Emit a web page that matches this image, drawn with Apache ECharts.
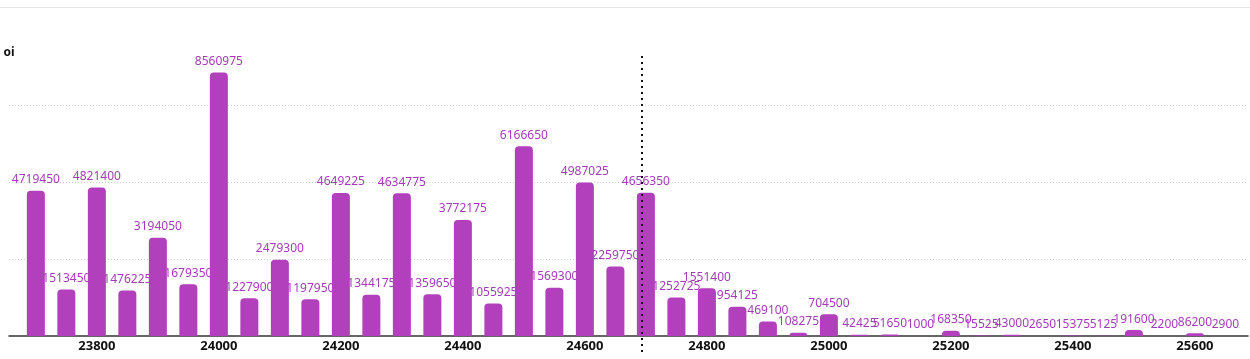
<!DOCTYPE html>
<html>
<head>
<meta charset="utf-8">
<script src="https://cdn.jsdelivr.net/npm/echarts@6/dist/echarts.min.js"></script>
<style>
html,body{margin:0;padding:0;background:#fff;}
#topline{position:absolute;left:0;top:7px;width:1250px;height:1px;background:#e6e6e6;}
#chart{position:absolute;left:0;top:0;width:1250px;height:359px;}
</style>
</head>
<body>
<div id="topline"></div>
<div id="chart"></div>
<script>
const strikes = [23700, 23750, 23800, 23850, 23900, 23950, 24000, 24050, 24100, 24150,
                 24200, 24250, 24300, 24350, 24400, 24450, 24500, 24550, 24600, 24650,
                 24700, 24750, 24800, 24850, 24900, 24950, 25000, 25050, 25100, 25150,
                 25200, 25250, 25300, 25350, 25400, 25450, 25500, 25550, 25600, 25650];
const oiValues = [4719450, 1513450, 4821400, 1476225, 3194050, 1679350, 8560975, 1227900, 2479300, 1197950,
                  4649225, 1344175, 4634775, 1359650, 3772175, 1055925, 6166650, 1569300, 4987025, 2259750,
                  4656350, 1252725, 1551400, 954125, 469100, 108275, 704500, 42425, 51650, 1000,
                  168350, 15525, 43000, 2650, 15375, 5125, 191600, 2200, 86200, 2900];
const spotPrice = 24692.5;
const seriesName = 'oi';

const pairs = strikes.map((s, i) => [s, oiValues[i]]);
const BAR = '#b23fbb';
const LABEL = '#a23cb6';
const FONT = 'Noto Sans';

const chart = echarts.init(document.getElementById('chart'), null, {renderer: 'canvas'});
chart.setOption({
  animation: false,
  backgroundColor: 'transparent',
  grid: [
    {left: 9, right: 2, top: 59, bottom: 23, containLabel: false},
    {left: 9, right: 2, top: 56, bottom: 7, containLabel: false}
  ],
  xAxis: [
    {
      type: 'value', gridIndex: 0, min: 23656, max: 25687, splitNumber: 10,
      axisLine: {show: true, lineStyle: {color: '#333', width: 1.5}},
      axisTick: {show: false},
      splitLine: {show: false},
      axisLabel: {show: true, showMinLabel: false, showMaxLabel: false, margin: 4,
                  formatter: v => String(v),
                  color: '#111', fontWeight: 'bold', fontSize: 13, fontFamily: FONT}
    },
    {type: 'value', gridIndex: 1, min: 23656, max: 25687, show: false}
  ],
  yAxis: [
    {
      type: 'value', gridIndex: 0, min: 0, max: 9000000, interval: 2500000,
      name: seriesName, nameLocation: 'end', nameGap: 6,
      nameTextStyle: {color: '#111', fontWeight: 'bold', fontSize: 12, fontFamily: FONT,
                      align: 'center', verticalAlign: 'middle'},
      axisLine: {show: false}, axisTick: {show: false}, axisLabel: {show: false},
      splitLine: {show: true, showMinLine: false, showMaxLine: false,
                  lineStyle: {color: '#d2d2d2', type: [1, 2], width: 1}}
    },
    {type: 'value', gridIndex: 1, min: 0, max: 1, show: false}
  ],
  series: [
    {
      name: seriesName + '-labels', type: 'bar', xAxisIndex: 0, yAxisIndex: 0,
      data: pairs, barWidth: 18, barGap: '-100%', z: 2, silent: true,
      itemStyle: {color: 'rgba(0,0,0,0)'},
      label: {show: true, position: 'top', distance: 5, color: LABEL,
              fontSize: 12, fontFamily: FONT}
    },
    {
      name: seriesName, type: 'bar', xAxisIndex: 0, yAxisIndex: 0,
      data: pairs, barWidth: 18, barGap: '-100%', z: 3,
      itemStyle: {color: BAR, borderRadius: [4, 4, 0, 0]}
    },
    {
      name: 'spot', type: 'scatter', xAxisIndex: 1, yAxisIndex: 1,
      data: [[spotPrice, 0]], symbolSize: 0, silent: true, z: 5,
      markLine: {
        silent: true, symbol: ['none', 'none'], label: {show: false},
        lineStyle: {color: '#111', type: [2, 4], width: 2},
        data: [{xAxis: spotPrice}]
      }
    }
  ]
});
</script>
</body>
</html>
